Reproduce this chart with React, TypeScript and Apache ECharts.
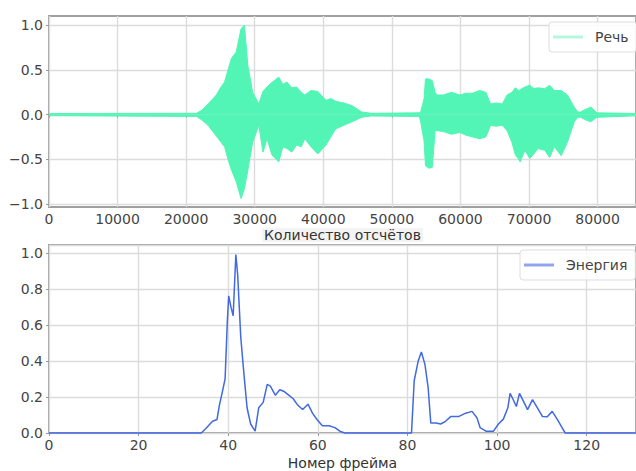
import React, { useEffect, useRef } from "react";
import * as echarts from "echarts";

// Speech waveform envelope (sample index, upper / lower amplitude)
const speechSamples = [0, 21500, 22300, 23200, 24400, 25000, 25600, 26100, 26600, 27300, 28000, 28500, 29000, 29700, 30600, 31200, 31800, 32500, 33500, 34100, 34700, 35400, 36100, 36800, 37300, 38200, 39200, 40400, 41100, 41800, 43000, 44200, 45600, 47000, 54000, 54200, 54700, 54900, 55400, 55900, 56300, 56600, 57500, 58700, 59900, 60800, 61800, 62800, 63700, 64400, 65200, 66100, 66800, 67500, 68000, 68500, 68700, 69400, 70100, 70700, 71300, 72300, 73000, 73700, 74700, 75600, 76600, 77100, 77500, 78300, 79000, 79900, 86000];
const speechUpper = [0.012, 0.015, 0.05, 0.12, 0.22, 0.3, 0.365, 0.5, 0.63, 0.7, 0.96, 1.0, 0.55, 0.25, 0.12, 0.26, 0.31, 0.36, 0.42, 0.34, 0.365, 0.3, 0.31, 0.25, 0.22, 0.27, 0.26, 0.16, 0.18, 0.15, 0.13, 0.1, 0.03, 0.015, 0.02, 0.03, 0.18, 0.4, 0.4, 0.38, 0.25, 0.22, 0.22, 0.25, 0.22, 0.24, 0.24, 0.27, 0.25, 0.12, 0.13, 0.12, 0.22, 0.25, 0.3, 0.27, 0.28, 0.31, 0.33, 0.29, 0.3, 0.29, 0.33, 0.27, 0.27, 0.22, 0.085, 0.03, 0.03, 0.06, 0.085, 0.02, 0.012];
const speechLower = [-0.012, -0.02, -0.06, -0.12, -0.24, -0.3, -0.36, -0.5, -0.62, -0.75, -0.94, -0.83, -0.62, -0.31, -0.12, -0.42, -0.27, -0.45, -0.53, -0.36, -0.38, -0.42, -0.34, -0.36, -0.27, -0.36, -0.44, -0.34, -0.25, -0.16, -0.12, -0.08, -0.03, -0.015, -0.02, -0.08, -0.3, -0.57, -0.6, -0.59, -0.18, -0.18, -0.19, -0.22, -0.2, -0.23, -0.25, -0.27, -0.25, -0.12, -0.13, -0.12, -0.18, -0.31, -0.45, -0.5, -0.53, -0.4, -0.49, -0.44, -0.38, -0.4, -0.48, -0.36, -0.46, -0.31, -0.08, -0.03, -0.03, -0.06, -0.08, -0.03, -0.012];

// Energy per frame
const energyFrames = [0, 34, 35, 36.5, 37.5, 38, 38.7, 39.3, 39.8, 40.1, 40.6, 41.1, 41.7, 42.1, 42.8, 43.6, 44.2, 45, 46, 46.8, 47.8, 48.7, 49.4, 50.5, 51.5, 52.5, 53.5, 54.5, 55.5, 56.6, 57.8, 58.8, 59.8, 61, 62.5, 63.8, 64.9, 66, 80.9, 81.5, 82.4, 83.1, 83.9, 84.6, 85.2, 86.4, 87.4, 88.5, 89.7, 91.5, 93, 94.4, 95.5, 96.2, 97.5, 99.2, 100.3, 101.4, 102.4, 102.9, 103.5, 104.3, 105, 105.7, 106.8, 107.9, 109, 110.1, 111.2, 112.3, 113.4, 114.5, 115.2, 131];
const energyValues = [0, 0, 0.025, 0.065, 0.075, 0.15, 0.23, 0.3, 0.62, 0.76, 0.7, 0.65, 0.99, 0.88, 0.53, 0.3, 0.14, 0.05, 0.01, 0.14, 0.17, 0.27, 0.26, 0.21, 0.24, 0.23, 0.21, 0.19, 0.155, 0.13, 0.16, 0.11, 0.075, 0.04, 0.04, 0.03, 0.01, 0, 0, 0.29, 0.4, 0.45, 0.38, 0.255, 0.056, 0.056, 0.05, 0.065, 0.092, 0.092, 0.11, 0.12, 0.085, 0.03, 0.01, 0.01, 0.05, 0.077, 0.14, 0.22, 0.19, 0.147, 0.22, 0.185, 0.13, 0.185, 0.14, 0.092, 0.09, 0.12, 0.077, 0.03, 0, 0];

const topYTicks = [-1, -0.5, 0, 0.5, 1];

const SPEECH = "#52f5b5";
const ENERGY = "#4169e1";
const FONT = "DejaVu Sans";
const LABEL = "#444";
const GRIDC = "#dcdcdc";
const FS = 14;

export default function App() {
  const ref = useRef<HTMLDivElement>(null);
  useEffect(() => {
    document.body.style.margin = "0";
    const chart = echarts.init(ref.current!, null, { renderer: "svg" });
    const fmtY = (v: number) => (v < 0 ? "\u2212" + Math.abs(v).toFixed(1) : v.toFixed(1));
    const axisLabel = { color: LABEL, fontFamily: FONT, fontSize: FS };
    const legendBase = {
      orient: "vertical",
      itemWidth: 30, itemHeight: 3,
      backgroundColor: "rgba(255,255,255,0.85)", borderColor: "#dddddd", borderWidth: 1, borderRadius: 3,
      padding: [8, 8, 8, 4],
      textStyle: { color: LABEL, fontFamily: FONT, fontSize: FS, padding: [0, 0, 0, 7] },
    };
    chart.setOption({
      animation: false,
      backgroundColor: "#fff",
      grid: [
        { left: 49, top: 16, height: 191, right: -12, show: true, borderColor: "#a0a0a0", borderWidth: 2, backgroundColor: "transparent" },
        { left: 49, top: 245, height: 192, right: -12, show: true, borderColor: "#a0a0a0", borderWidth: 2, backgroundColor: "transparent" },
      ],
      legend: [
        { ...legendBase, left: 549, top: 22, data: [{ name: "Речь", icon: "rect", itemStyle: { color: "#b3f8de" } }] },
        { ...legendBase, left: 520, top: 250, data: [{ name: "Энергия", icon: "rect", itemStyle: { color: "#8fa6ee" } }] },
      ],
      xAxis: [
        {
          type: "value", gridIndex: 0, min: 0, max: 85600, interval: 10000,
          name: "Количество отсчётов", nameLocation: "middle", nameGap: 21,
          nameTextStyle: { color: "#333", fontFamily: FONT, fontSize: FS, backgroundColor: "#f3f3f3", padding: [0, 2] },
          axisLine: { show: false },
          axisTick: { show: true, length: 3, lineStyle: { color: "#999" } },
          axisLabel: { ...axisLabel, margin: 5, showMaxLabel: false, formatter: (v: number) => String(v) },
          splitLine: { show: true, lineStyle: { color: GRIDC, width: 1.4 } },
        },
        {
          type: "value", gridIndex: 1, min: 0, max: 131, interval: 20,
          name: "Номер фрейма", nameLocation: "middle", nameGap: 23,
          nameTextStyle: { color: "#333", fontFamily: FONT, fontSize: FS },
          axisLine: { show: false },
          axisTick: { show: true, length: 3, lineStyle: { color: "#999" } },
          axisLabel: { ...axisLabel, margin: 5, showMaxLabel: false, formatter: (v: number) => String(v) },
          splitLine: { show: true, lineStyle: { color: GRIDC, width: 1.4 } },
        },
      ],
      yAxis: [
        {
          type: "value", gridIndex: 0, min: -1.034, max: 1.104,
          axisLine: { show: false },
          axisTick: { show: true, length: 3, customValues: topYTicks, lineStyle: { color: "#999" } },
          axisLabel: { ...axisLabel, margin: 6, customValues: topYTicks, formatter: fmtY },
          splitLine: { show: true, lineStyle: { color: GRIDC, width: 1.4 } },
        },
        {
          type: "value", gridIndex: 1, min: 0, max: 1.043, interval: 0.2,
          axisLine: { show: false },
          axisTick: { show: true, length: 3, lineStyle: { color: "#999" } },
          axisLabel: { ...axisLabel, margin: 6, showMaxLabel: false, formatter: fmtY },
          splitLine: { show: true, lineStyle: { color: GRIDC, width: 1.4 } },
        },
      ],
      series: [
        {
          name: "Речь", type: "line", xAxisIndex: 0, yAxisIndex: 0, symbol: "none",
          data: speechSamples.map((s, i) => [s, speechUpper[i]]),
          lineStyle: { color: SPEECH, width: 1 }, itemStyle: { color: SPEECH },
          areaStyle: { color: SPEECH, opacity: 1, origin: 0 },
        },
        {
          name: "Речь", type: "line", xAxisIndex: 0, yAxisIndex: 0, symbol: "none",
          data: speechSamples.map((s, i) => [s, speechLower[i]]),
          lineStyle: { color: SPEECH, width: 1 }, itemStyle: { color: SPEECH },
          areaStyle: { color: SPEECH, opacity: 1, origin: 0 },
        },
        {
          name: "Энергия", type: "line", xAxisIndex: 1, yAxisIndex: 1, symbol: "none", clip: false,
          data: energyFrames.map((f, i) => [f, energyValues[i]]),
          lineStyle: { color: ENERGY, width: 1.5 }, itemStyle: { color: ENERGY },
        },
      ],
    });
    return () => chart.dispose();
  }, []);
  return <div ref={ref} style={{ position: "absolute", left: 0, top: 0, width: 636, height: 471 }} />;
}
